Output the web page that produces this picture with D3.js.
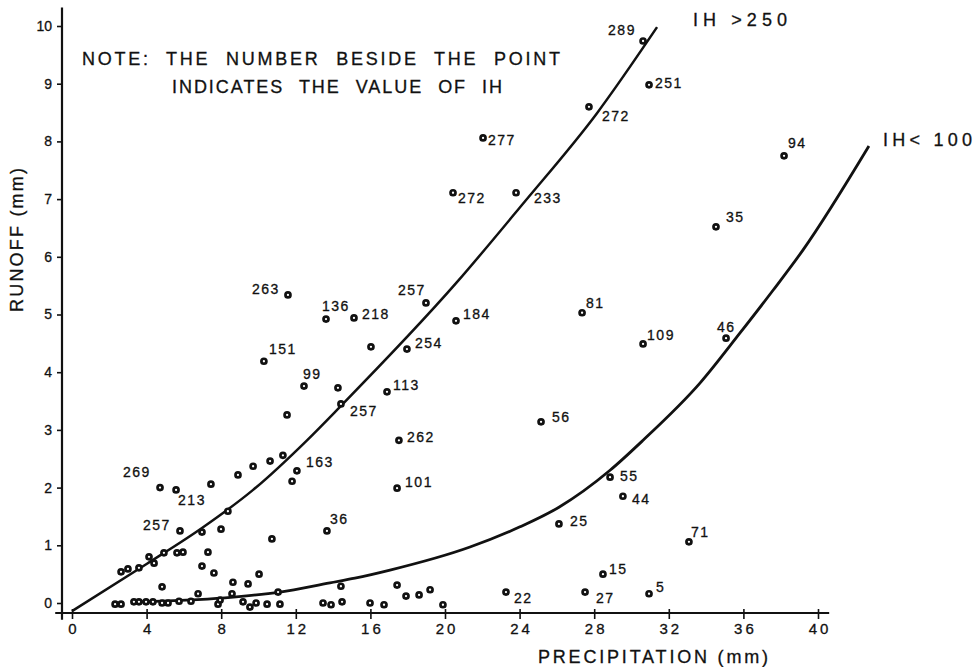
<!DOCTYPE html>
<html>
<head>
<meta charset="utf-8">
<script src="https://cdn.jsdelivr.net/npm/d3@7"></script>
<style>
  html, body { margin: 0; padding: 0; background: #fff; }
  svg { display: block; }
  text { font-family: "Liberation Sans", Arial, sans-serif; fill: #111; stroke: #111; stroke-width: 0.3px; }
</style>
</head>
<body>
<svg id="chart" width="975" height="667"></svg>
<script>
// Storm events: precipitation (mm) vs runoff (mm), labelled with the IH value
const labeledPrecip = [30.62, 30.94, 27.72, 22.04, 20.43, 23.81, 38.18, 34.53, 30.62, 35.07,
  20.59, 27.35, 25.15, 28.85, 29.54, 26.11, 33.08, 28.47, 23.27, 27.51, 30.94,
  11.58, 18.98, 13.62, 15.12, 17.96, 10.29, 12.44, 16.89, 14.42, 17.53, 12.06,
  17.43, 13.67, 4.72, 5.58, 5.79];
const labeledRunoff = [9.74, 8.98, 8.60, 8.06, 7.11, 7.11, 7.75, 6.52, 4.49, 4.59,
  4.89, 5.03, 3.14, 2.18, 1.85, 1.37, 1.06, 0.50, 0.19, 0.19, 0.16,
  5.34, 5.20, 4.92, 4.94, 4.40, 4.19, 3.76, 3.66, 3.45, 2.82, 2.29,
  1.99, 1.25, 2.00, 1.96, 1.25];
const labeledIH = ["289", "251", "272", "277", "272", "233", "94", "35", "109", "46",
  "184", "81", "56", "55", "44", "25", "71", "15", "22", "27", "5",
  "263", "257", "136", "218", "254", "151", "99", "113", "257", "262", "163",
  "101", "36", "269", "213", "257"];

// Events shown without an IH label
const otherPrecip = [7.45, 8.90, 9.71, 10.62, 11.31, 11.80, 16.03, 14.26, 11.53,
  6.97, 7.99, 8.36, 10.72, 2.63, 3.00, 3.59, 4.13, 4.40, 4.93, 5.63, 5.95, 7.29,
  6.97, 7.61, 4.83, 8.63, 9.44, 10.03, 14.42, 17.43, 17.91, 18.61, 19.20, 19.89,
  2.31, 2.63, 3.32, 3.59, 3.97, 4.34, 4.83, 5.15, 5.74, 6.38, 6.76, 7.83, 7.94,
  8.58, 9.17, 9.54, 9.87, 10.46, 11.15, 11.05, 13.46, 13.89, 14.48, 15.98, 16.73];
const otherRunoff = [2.06, 2.22, 2.37, 2.46, 2.56, 2.11, 4.44, 3.73, 3.26,
  1.23, 1.28, 1.59, 1.11, 0.54, 0.59, 0.61, 0.80, 0.69, 0.87, 0.87, 0.88, 0.88,
  0.64, 0.52, 0.28, 0.36, 0.33, 0.50, 0.29, 0.31, 0.12, 0.14, 0.23, -0.03,
  -0.02, -0.02, 0.02, 0.02, 0.02, 0.02, 0.00, 0.00, 0.03, 0.03, 0.16, -0.02, 0.05,
  0.16, 0.02, -0.07, 0.00, -0.02, -0.02, 0.19, 0.00, -0.03, 0.02, 0.00, -0.03];

// Fitted curves for the two IH classes
const highCurvePrecip = [0, 4.02, 6.97, 9.71, 12.6, 14.37, 20.64, 24.18, 28.15, 31.37];
const highCurveRunoff = [-0.14, 0.68, 1.30, 1.96, 2.82, 3.40, 5.56, 6.92, 8.49, 9.98];
const lowCurvePrecip = [3.22, 8.2, 11.15, 13.83, 15.17, 17.05, 21.34, 24.02, 26.11, 28.85,
  30.62, 33.67, 35.82, 37.59, 39.2, 42.73];
const lowCurveRunoff = [0.02, 0.09, 0.19, 0.35, 0.43, 0.57, 0.97, 1.32, 1.66, 2.3,
  2.82, 3.81, 4.68, 5.42, 6.12, 7.92];

const xTicks = [0, 4, 8, 12, 16, 20, 24, 28, 32, 36, 40];
const yTicks = [0, 1, 2, 3, 4, 5, 6, 7, 8, 9, 10];

// Label placement relative to each labelled point: [dx, dy] to the text start/baseline
const labelOffsets = [[-35, -6], [6, 3], [13, 14], [5, 7], [5, 10], [18, 10], [4, -8], [10, -5],
  [4, -4], [-9, -6], [7, -2], [4, -5], [11, 0], [10, 4], [9, 8], [11, 2], [2, -5], [6, 0],
  [8, 11], [11, 11], [7, -2], [-36, -1], [-28, -8], [-4, -8], [8, 1], [8, -1], [5, -7],
  [-1, -7], [6, -2], [9, 12], [8, 2], [9, -4], [8, -1], [3, -7], [-37, -11], [2, 15], [-37, -1]];

const svg = d3.select("#chart");
const x = d3.scaleLinear().domain([0, 40]).range([72, 818]);
const y = d3.scaleLinear().domain([0, 10]).range([603, 26]);
const ink = "#111";

// Axis spines
svg.append("line").attr("x1", x(-0.9)).attr("x2", x(40.6)).attr("y1", 613).attr("y2", 613)
  .attr("stroke", ink).attr("stroke-width", 2);
svg.append("line").attr("x1", 62).attr("x2", 62).attr("y1", y(10.32)).attr("y2", y(-0.29))
  .attr("stroke", ink).attr("stroke-width", 2.2);

// Ticks and tick labels
const xAxis = svg.append("g").attr("transform", "translate(0,609)")
  .call(d3.axisBottom(x).tickValues(xTicks).tickSize(10).tickPadding(4).tickFormat(d3.format("d")));
xAxis.select(".domain").remove();
xAxis.selectAll(".tick line").attr("stroke", ink).attr("stroke-width", 1.6);
xAxis.selectAll(".tick text").attr("fill", ink).style("font-size", "15px")
  .style("letter-spacing", "3px").attr("dx", "1.5px")
  .style("font-family", "'Liberation Sans', Arial, sans-serif");

const yAxis = svg.append("g").attr("transform", "translate(62,0)")
  .call(d3.axisLeft(y).tickValues(yTicks).tickSize(5).tickPadding(5).tickFormat(d3.format("d")));
yAxis.select(".domain").remove();
yAxis.selectAll(".tick line").attr("stroke", ink).attr("stroke-width", 1.6);
yAxis.selectAll(".tick text").attr("fill", ink).style("font-size", "14px")
  .style("font-family", "'Liberation Sans', Arial, sans-serif");

// Axis titles
svg.append("text").attr("x", 653).attr("y", 663).attr("text-anchor", "middle")
  .attr("textLength", 230).attr("lengthAdjust", "spacing")
  .style("font-size", "18px").text("PRECIPITATION (mm)");
svg.append("text").attr("transform", "translate(23,240) rotate(-90)").attr("text-anchor", "middle")
  .attr("textLength", 144).attr("lengthAdjust", "spacing")
  .style("font-size", "18px").text("RUNOFF (mm)");

// Note
svg.append("text").attr("x", 82).attr("y", 65).attr("textLength", 478).attr("lengthAdjust", "spacing")
  .style("font-size", "18px").style("word-spacing", "8px")
  .text("NOTE:  THE  NUMBER  BESIDE  THE  POINT");
svg.append("text").attr("x", 172).attr("y", 93).attr("textLength", 330).attr("lengthAdjust", "spacing")
  .style("font-size", "18px").style("word-spacing", "8px")
  .text("INDICATES THE  VALUE  OF  IH");

// Fitted curves
const line = d3.line().x(d => x(d[0])).y(d => y(d[1])).curve(d3.curveMonotoneX);
svg.append("path").datum(d3.zip(highCurvePrecip, highCurveRunoff)).attr("d", line)
  .attr("fill", "none").attr("stroke", ink).attr("stroke-width", 2.5);
svg.append("path").datum(d3.zip(lowCurvePrecip, lowCurveRunoff)).attr("d", line)
  .attr("fill", "none").attr("stroke", ink).attr("stroke-width", 2.8);

// Curve labels
svg.append("text").attr("x", 693).attr("y", 26).attr("textLength", 94).attr("lengthAdjust", "spacing")
  .style("font-size", "18px").text("IH >250");
svg.append("text").attr("x", 883).attr("y", 146).attr("textLength", 89).attr("lengthAdjust", "spacing")
  .style("font-size", "18px").text("IH< 100");

// Points
const drawPoints = (px, py) => svg.append("g").selectAll("circle")
  .data(d3.zip(px, py)).join("circle")
  .attr("cx", d => x(d[0])).attr("cy", d => y(d[1])).attr("r", 2.5)
  .attr("fill", "#fff").attr("stroke", ink).attr("stroke-width", 2.7);
drawPoints(otherPrecip, otherRunoff);
drawPoints(labeledPrecip, labeledRunoff);

// IH labels
svg.append("g").selectAll("text")
  .data(labeledIH.map((t, i) => ({ t, px: labeledPrecip[i], py: labeledRunoff[i], o: labelOffsets[i] })))
  .join("text")
  .attr("x", d => x(d.px) + d.o[0]).attr("y", d => y(d.py) + d.o[1])
  .style("font-size", "14px").style("letter-spacing", "1.5px")
  .text(d => d.t);
</script>
</body>
</html>
